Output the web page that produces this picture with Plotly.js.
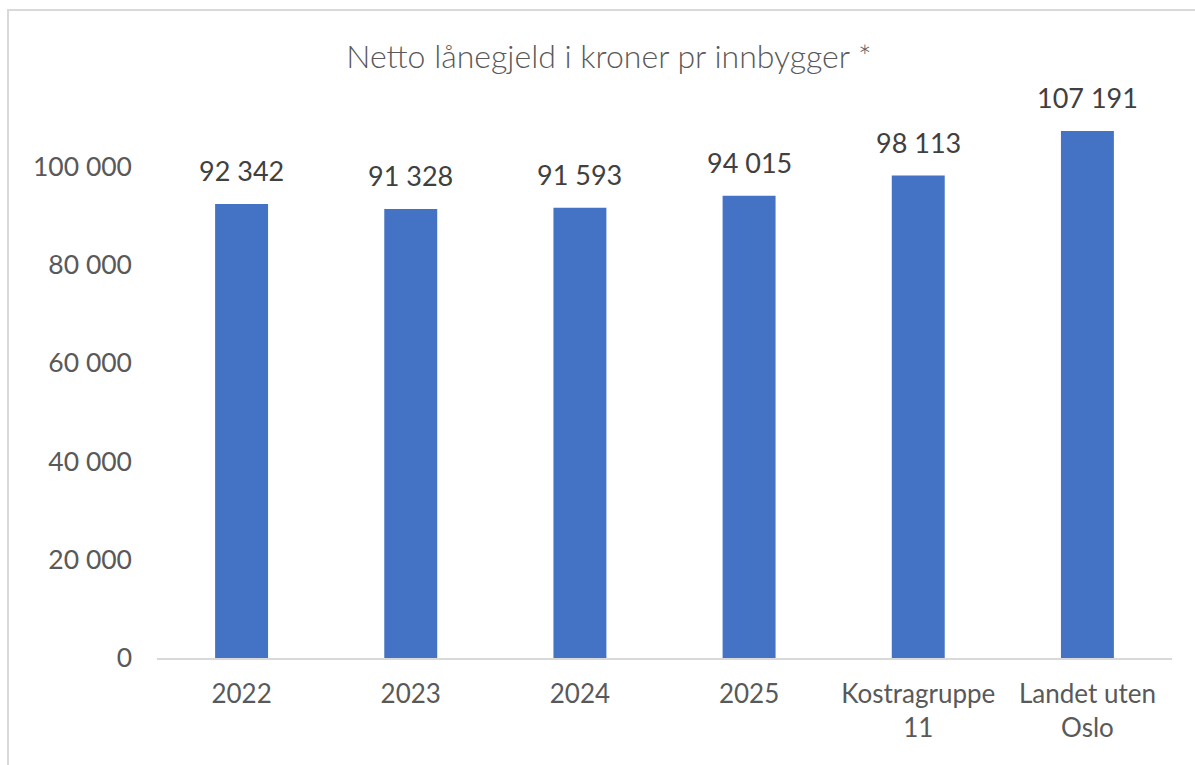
<!DOCTYPE html>
<html>
<head>
<meta charset="utf-8">
<script src="https://cdn.plot.ly/plotly-3.0.1.min.js"></script>
<style>
  html, body { margin: 0; padding: 0; background: #ffffff; }
  #frame { position: absolute; left: 7px; top: 9px; width: 1200px; height: 770px;
           border-left: 2px solid #d9d9d9; border-top: 2px solid #d9d9d9; }
  #chart { position: absolute; left: 0; top: 0; width: 1195px; height: 765px; }
</style>
</head>
<body>
<div id="frame"></div>
<div id="chart"></div>
<script>
const categories = ["2022", "2023", "2024", "2025", "Kostragruppe<br>11", "Landet uten<br>Oslo"];
const values = [92342, 91328, 91593, 94015, 98113, 107191];
const yTickValues = [0, 20000, 40000, 60000, 80000, 100000];
const titleText = "Netto lånegjeld i kroner pr innbygger *";

const FONT = "Lato, 'Open Sans', sans-serif";

function fmt(v) {
  return String(Math.round(v)).replace(/\B(?=(\d{3})+(?!\d))/g, " ");
}

const trace = {
  type: "bar",
  x: categories,
  y: values,
  marker: { color: "#4472C4" },
  hoverinfo: "x+y"
};

// annotations placed by category index on the category axis
const annotations = values.map((v, i) => ({
  x: i, y: v, xref: "x", yref: "y",
  text: fmt(v), showarrow: false, yanchor: "bottom", yshift: 15,
  font: { family: FONT, size: 27, color: "#404040" }
}));

const layout = {
  width: 1195, height: 765,
  paper_bgcolor: "rgba(0,0,0,0)", plot_bgcolor: "rgba(0,0,0,0)",
  margin: { l: 157, r: 23, t: 68, b: 107 },
  separators: ", ",
  showlegend: false,
  bargap: 0.687,
  title: {
    text: titleText,
    font: { family: FONT, size: 32, weight: 300, color: "#595959" },
    x: 609 / 1195, xanchor: "center", xref: "container",
    y: 1 - 57 / 765, yanchor: "middle", yref: "container"
  },
  xaxis: {
    type: "category",
    categoryorder: "array", categoryarray: categories,
    range: [-0.5, categories.length - 0.5],
    showgrid: false, zeroline: false,
    showline: true, linecolor: "#d9d9d9", linewidth: 2,
    ticks: "", ticklabelstandoff: 12,
    tickfont: { family: FONT, size: 26, color: "#595959" }
  },
  yaxis: {
    range: [0, 120000],
    tickvals: yTickValues,
    ticktext: yTickValues.map(fmt),
    showgrid: false, zeroline: false, showline: false,
    ticks: "", ticklabelstandoff: 24,
    tickfont: { family: FONT, size: 26.5, color: "#595959" }
  },
  annotations: annotations
};

Plotly.newPlot("chart", [trace], layout, { displayModeBar: false, staticPlot: true });
</script>
</body>
</html>
